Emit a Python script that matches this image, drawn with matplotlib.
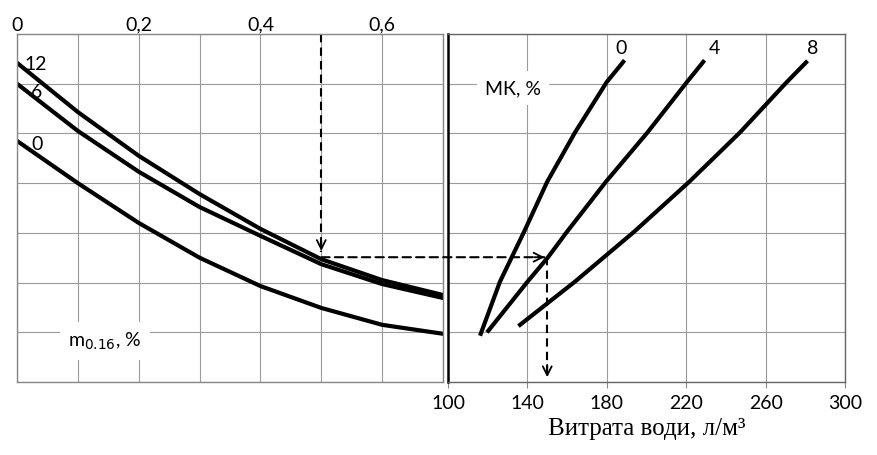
import numpy as np
import matplotlib.pyplot as plt
from matplotlib.patches import ConnectionPatch

# left panel: m0.16 vs. common scale, for MK = 12, 6, 0 %
m_x = [0, 0.1, 0.2, 0.3, 0.4, 0.5, 0.6, 0.7]
left_curves = {
    '12': [6.42, 5.43, 4.55, 3.78, 3.08, 2.47, 2.05, 1.75],
    '6': [6.00, 5.05, 4.23, 3.52, 2.94, 2.37, 1.97, 1.69],
    '0': [4.85, 4.00, 3.20, 2.50, 1.93, 1.49, 1.15, 0.97],
}

# right panel: water demand (l/m3), for MK = 0, 4, 8 %
mk0_x = [116.5, 126.2, 138.3, 150.0, 164.0, 179.9, 188.3]
mk0_y = [0.97, 2.02, 3.02, 4.03, 5.02, 6.03, 6.44]
mk4_x = [120.3, 140.1, 150.4, 159.9, 179.6, 200.5, 220.3, 228.6]
mk4_y = [1.03, 2.02, 2.51, 3.02, 4.03, 5.02, 6.03, 6.44]
mk8_x = [136.3, 164.0, 193.7, 221.6, 247.1, 270.6, 280.4]
mk8_y = [1.15, 2.02, 3.02, 4.03, 5.02, 6.03, 6.43]

left_ticklabels = ['0', '', '0,2', '', '0,4', '', '0,6', '']
water_ticks = [100, 140, 180, 220, 260, 300]

# example reading
m_read = 0.5
level_read = 2.51
water_read = 150

tick_font = 'Lato'
fig = plt.figure(figsize=(8.77, 4.56), dpi=100)
ax1 = fig.add_axes([17/877, 1 - 383/456, 426/877, 348/456])
ax2 = fig.add_axes([448/877, 1 - 383/456, 397/877, 348/456])

grid_kw = dict(color='#9a9a9a', lw=0.8)
dash = (0, (4, 2.5))
head = dict(arrowstyle='->', color='black', lw=1.3, mutation_scale=16)

# ----- left panel
for lab, vals in left_curves.items():
    ax1.plot(m_x, vals, color='black', lw=3)
ax1.set_xlim(0, 0.7)
ax1.set_ylim(0, 7)
ax1.xaxis.tick_top()
ax1.set_xticks(m_x)
ax1.set_xticklabels(left_ticklabels)
ax1.set_yticks(range(8))
ax1.grid(True, **grid_kw)
ax1.tick_params(axis='x', length=0, pad=1, labelsize=14)
ax1.tick_params(axis='y', length=0, labelleft=False)
for t in ax1.get_xticklabels():
    t.set_family(tick_font)
for s in ax1.spines.values():
    s.set_color('#888888')
    s.set_linewidth(1)

ax1.text(0.013, 6.4, '12', fontsize=14, family=tick_font, va='center')
ax1.text(0.023, 5.85, '6', fontsize=14, family=tick_font, va='center')
ax1.text(0.023, 4.79, '0', fontsize=14, family=tick_font, va='center')
ax1.text(0.084, 0.83, r'm$_{0.16}$, %', fontsize=14, family=tick_font, va='center',
         bbox=dict(facecolor='white', edgecolor='none', pad=6))

ax1.plot([m_read, m_read], [7, 2.62], color='black', lw=1.5, ls=dash)
ax1.annotate('', xy=(m_read, 2.58), xytext=(m_read, 2.9), arrowprops=head)

# ----- right panel
ax2.plot(mk0_x, mk0_y, color='black', lw=3)
ax2.plot(mk4_x, mk4_y, color='black', lw=3)
ax2.plot(mk8_x, mk8_y, color='black', lw=3)
ax2.set_xlim(100, 300)
ax2.set_ylim(0, 7)
ax2.set_xticks(water_ticks)
ax2.set_yticks(range(8))
ax2.grid(True, **grid_kw)
ax2.tick_params(axis='x', length=4, color='#888888', labelsize=14, pad=5)
ax2.tick_params(axis='y', length=0, labelleft=False)
for t in ax2.get_xticklabels():
    t.set_family(tick_font)
for s in ax2.spines.values():
    s.set_color('#666666')
    s.set_linewidth(1)
ax2.spines['left'].set_color('black')
ax2.spines['left'].set_linewidth(1.8)
ax2.set_xlabel('Витрата води, л/м³', fontsize=18, family='Liberation Serif', labelpad=4)

ax2.text(187.2, 6.72, '0', fontsize=14, family=tick_font, ha='center', va='center')
ax2.text(234.0, 6.72, '4', fontsize=14, family=tick_font, ha='center', va='center')
ax2.text(283.9, 6.72, '8', fontsize=14, family=tick_font, ha='center', va='center')
ax2.text(118.6, 5.92, 'МК, %', fontsize=14, family=tick_font, va='center',
         bbox=dict(facecolor='white', edgecolor='none', pad=6))

# horizontal dashed link between the panels
con = ConnectionPatch(xyA=(m_read, level_read), coordsA=ax1.transData,
                      xyB=(water_read - 1.5, level_read), coordsB=ax2.transData,
                      color='black', lw=1.5, ls=dash, zorder=5)
fig.add_artist(con)
ax2.annotate('', xy=(water_read, level_read), xytext=(water_read - 8, level_read),
             arrowprops=head)
ax2.plot([water_read, water_read], [level_read, 0.12], color='black', lw=1.5, ls=dash)
ax2.annotate('', xy=(water_read, 0.04), xytext=(water_read, 0.4),
             arrowprops=head, annotation_clip=False)

fig.savefig('out.png', dpi=100)
